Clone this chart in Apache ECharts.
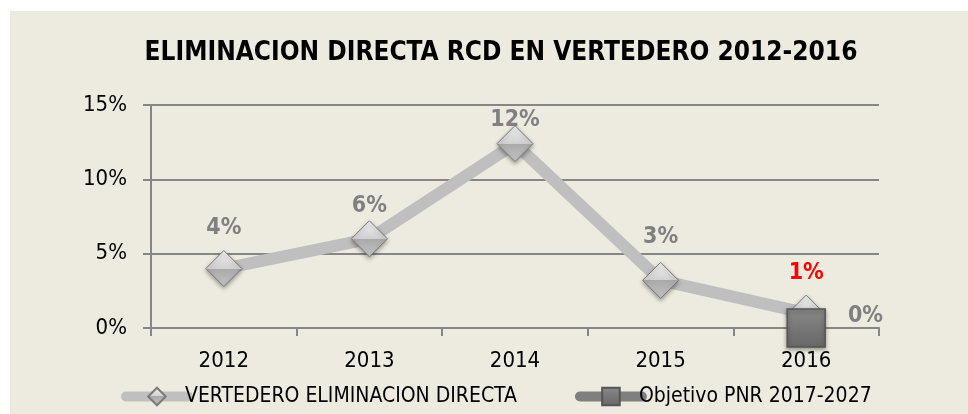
<!DOCTYPE html>
<html>
<head>
<meta charset="utf-8">
<script src="https://cdn.jsdelivr.net/npm/echarts@6/dist/echarts.min.js"></script>
<style>
  html, body { margin: 0; padding: 0; background: #fff; }
  #chart { width: 968px; height: 414px; }
</style>
</head>
<body>
<div id="chart"></div>
<script>
// datos
var years = ['2012', '2013', '2014', '2015', '2016'];
var vertedero = [4.0, 6.0, 12.4, 3.2, 1.0];
var objetivo = [null, null, null, null, 0];
var yTicks = [0, 5, 10, 15];

var fontNarrow = "'Liberation Sans Narrow', 'DejaVu Sans Condensed', 'Liberation Sans', sans-serif";

// distancia de cada etiqueta sobre su punto
var labelGap = [11, 3, -6, 13, 10];

var diamondColor = {
  type: 'linear', x: 0, y: 0, x2: 0, y2: 1,
  colorStops: [
    { offset: 0, color: '#f2f2f2' },
    { offset: 0.5, color: '#d0d0d0' },
    { offset: 0.5, color: '#a9a9a9' },
    { offset: 1, color: '#c4c4c4' }
  ]
};
var squareColor = {
  type: 'linear', x: 0, y: 0, x2: 0, y2: 1,
  colorStops: [
    { offset: 0, color: '#8a8a8a' },
    { offset: 0.5, color: '#777777' },
    { offset: 1, color: '#686868' }
  ]
};

var myChart = echarts.init(document.getElementById('chart'), null, { renderer: 'canvas' });

var option = {
  backgroundColor: '#ffffff',
  animation: false,
  graphic: [{
    type: 'rect',
    z: -10,
    shape: { x: 10, y: 11, width: 958, height: 403 },
    style: { fill: '#EDEBE0' }
  }],
  title: {
    text: 'ELIMINACION DIRECTA RCD EN VERTEDERO 2012-2016',
    left: 496,
    textAlign: 'center',
    top: 35,
    textStyle: {
      fontFamily: fontNarrow,
      fontWeight: 'bold',
      fontSize: 26,
      color: '#000'
    }
  },
  legend: {
    bottom: 2,
    left: 116,
    itemWidth: 62,
    itemHeight: 22,
    itemGap: 58,
    lineStyle: { width: 10, cap: 'round' },
    textStyle: { fontFamily: fontNarrow, fontSize: 21, color: '#000', padding: [0, 0, 0, -8] },
    data: ['VERTEDERO ELIMINACION DIRECTA', 'Objetivo PNR 2017-2027']
  },
  grid: { left: 151, right: 89, top: 105, bottom: 86 },
  xAxis: {
    type: 'category',
    data: years,
    boundaryGap: true,
    axisLine: { lineStyle: { color: '#868686', width: 2 } },
    axisTick: { show: true, length: 8, lineStyle: { color: '#868686', width: 2 } },
    axisLabel: { fontFamily: fontNarrow, fontSize: 22, color: '#000', margin: 22 }
  },
  yAxis: {
    type: 'value',
    min: 0,
    max: 15,
    interval: 5,
    axisLine: { show: true, lineStyle: { color: '#868686', width: 2 } },
    axisTick: { show: true, length: 8, lineStyle: { color: '#868686', width: 2 } },
    splitLine: { lineStyle: { color: '#868686', width: 2 } },
    axisLabel: {
      fontFamily: fontNarrow, fontSize: 22, color: '#000', margin: 24,
      formatter: function (v) { return yTicks.indexOf(v) >= 0 ? v + '%' : ''; }
    }
  },
  series: [
    {
      name: 'VERTEDERO ELIMINACION DIRECTA',
      type: 'line',
      data: vertedero.map(function (v, i) {
        return {
          value: v,
          label: {
            distance: labelGap[i],
            color: i === vertedero.length - 1 ? '#ff0000' : '#808080'
          }
        };
      }),
      lineStyle: { color: '#bfbfbf', width: 12 },
      symbol: 'diamond',
      symbolSize: 36,
      itemStyle: {
        color: diamondColor,
        borderColor: '#7a7a7a',
        borderWidth: 1,
        shadowColor: 'rgba(0,0,0,0.35)',
        shadowBlur: 4,
        shadowOffsetY: 2
      },
      label: {
        show: true,
        position: 'top',
        fontFamily: fontNarrow,
        fontWeight: 'bold',
        fontSize: 23,
        formatter: function (p) { return Math.round(p.value) + '%'; }
      },
      z: 3
    },
    {
      name: 'Objetivo PNR 2017-2027',
      type: 'line',
      data: objetivo,
      lineStyle: { color: '#7f7f7f', width: 12 },
      symbol: 'rect',
      symbolSize: 38,
      itemStyle: {
        color: squareColor,
        borderColor: '#555555',
        borderWidth: 1.5,
        shadowColor: 'rgba(0,0,0,0.35)',
        shadowBlur: 4,
        shadowOffsetY: 2
      },
      label: {
        show: true,
        position: 'right',
        distance: 22,
        offset: [0, -12],
        fontFamily: fontNarrow,
        fontWeight: 'bold',
        fontSize: 23,
        color: '#808080',
        formatter: function (p) { return p.value + '%'; }
      },
      z: 4
    }
  ]
};

myChart.setOption(option, true);
</script>
</body>
</html>
